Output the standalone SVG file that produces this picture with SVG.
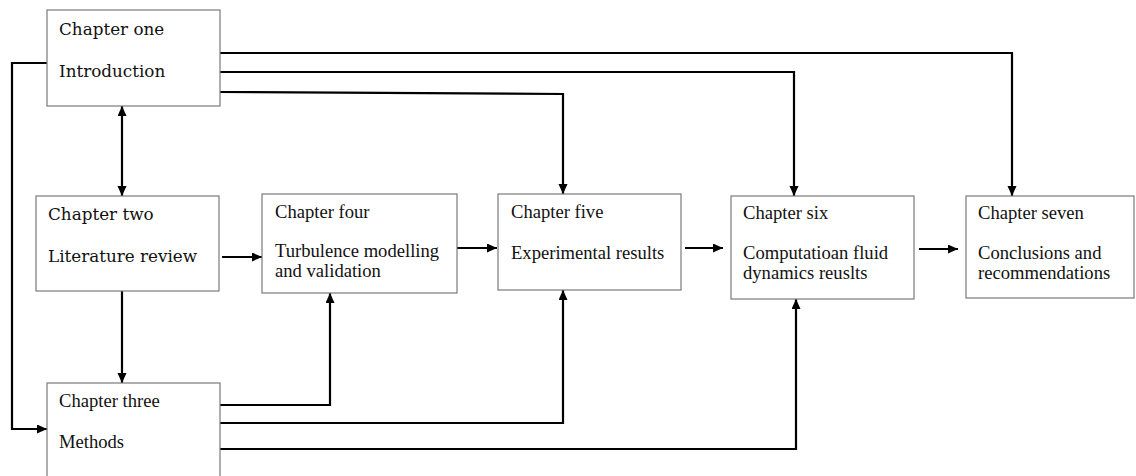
<svg xmlns="http://www.w3.org/2000/svg" width="1136" height="476" viewBox="0 0 1136 476">
<style>
.box{fill:#fff;stroke:#7a7a7a;stroke-width:1.2}
.c{fill:none;stroke:#000;stroke-width:2.2}
.ts{font-family:"Liberation Serif","Times New Roman",serif;font-size:18.6px;fill:#111}
.cs{font-family:"DejaVu Serif",serif;font-size:16.8px;fill:#111}
</style>
<defs>
<marker id="ah" markerUnits="userSpaceOnUse" markerWidth="12" markerHeight="10" refX="10" refY="4.5" orient="auto-start-reverse">
<path d="M0,0 L10,4.5 L0,9 z" fill="#000"/>
</marker>
</defs>
<rect width="1136" height="476" fill="#fff"/>
<g id="connectors">
<path class="c" d="M220,53 H1012 V196" marker-end="url(#ah)"/>
<path class="c" d="M220,72 H794 V196" marker-end="url(#ah)"/>
<path class="c" d="M220,92 L563,94 V194" marker-end="url(#ah)"/>
<path class="c" d="M47,63 H12 V429 H47" marker-end="url(#ah)"/>
<path class="c" d="M122,106 V196" marker-start="url(#ah)" marker-end="url(#ah)"/>
<path class="c" d="M122,291 V383" marker-end="url(#ah)"/>
<path class="c" d="M222,257 H262" marker-end="url(#ah)"/>
<path class="c" d="M457,248 H497" marker-end="url(#ah)"/>
<path class="c" d="M685,248 H723" marker-end="url(#ah)"/>
<path class="c" d="M919,249 H958" marker-end="url(#ah)"/>
<path class="c" d="M220,405 H330 V293" marker-end="url(#ah)"/>
<path class="c" d="M220,423 H563 V290" marker-end="url(#ah)"/>
<path class="c" d="M220,449 H796 V299" marker-end="url(#ah)"/>
</g>
<g id="ch1">
<rect class="box" x="47" y="10" width="173" height="96"/>
<text class="cs" x="59" y="35">Chapter one</text>
<text class="cs" x="59" y="77">Introduction</text>
</g>
<g id="ch2">
<rect class="box" x="36" y="196" width="183" height="95"/>
<text class="cs" x="48" y="220">Chapter two</text>
<text class="cs" x="48" y="262">Literature review</text>
</g>
<g id="ch3">
<rect class="box" x="47" y="383" width="173" height="100"/>
<text class="ts" x="59" y="407">Chapter three</text>
<text class="ts" x="59" y="448">Methods</text>
</g>
<g id="ch4">
<rect class="box" x="262" y="194" width="195" height="99"/>
<text class="ts" x="275" y="218">Chapter four</text>
<text class="ts" x="275" y="257">Turbulence modelling</text>
<text class="ts" x="275" y="277">and validation</text>
</g>
<g id="ch5">
<rect class="box" x="498" y="194" width="183" height="96"/>
<text class="ts" x="511" y="218">Chapter five</text>
<text class="ts" x="511" y="259">Experimental results</text>
</g>
<g id="ch6">
<rect class="box" x="731" y="196" width="183" height="103"/>
<text class="ts" x="743" y="219">Chapter six</text>
<text class="ts" x="743" y="259">Computatioan fluid</text>
<text class="ts" x="743" y="279">dynamics reuslts</text>
</g>
<g id="ch7">
<rect class="box" x="966" y="196" width="168" height="102"/>
<text class="ts" x="978" y="219">Chapter seven</text>
<text class="ts" x="978" y="259">Conclusions and</text>
<text class="ts" x="978" y="279">recommendations</text>
</g>
</svg>
